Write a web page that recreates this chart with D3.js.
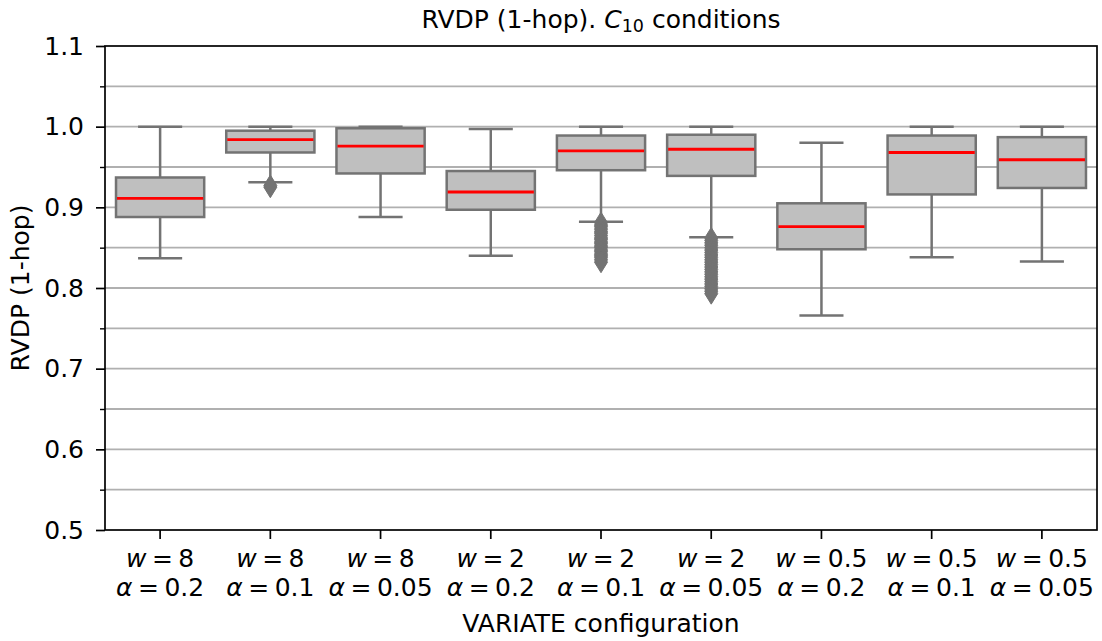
<!DOCTYPE html>
<html>
<head>
<meta charset="utf-8">
<script src="https://cdn.jsdelivr.net/npm/d3@7"></script>
<style>
  body { margin: 0; background: #fff; }
  svg { font-family: "DejaVu Sans", sans-serif; }
</style>
</head>
<body>
<div id="chart"></div>
<script>
// configurations along the x axis
const wValues = ["8", "8", "8", "2", "2", "2", "0.5", "0.5", "0.5"];
const alphaValues = ["0.2", "0.1", "0.05", "0.2", "0.1", "0.05", "0.2", "0.1", "0.05"];

// box statistics
const whiskerLow  = [0.837, 0.931, 0.888, 0.840, 0.882, 0.863, 0.766, 0.838, 0.833];
const q1          = [0.888, 0.968, 0.942, 0.897, 0.946, 0.939, 0.848, 0.916, 0.924];
const medians     = [0.911, 0.984, 0.976, 0.919, 0.970, 0.972, 0.876, 0.968, 0.959];
const q3          = [0.937, 0.995, 0.998, 0.945, 0.989, 0.990, 0.905, 0.989, 0.987];
const whiskerHigh = [1.000, 1.000, 1.000, 0.997, 1.000, 1.000, 0.980, 1.000, 1.000];

const outliers = [
  [],
  [0.927, 0.925],
  [],
  [],
  [0.881, 0.878, 0.876, 0.873, 0.870, 0.868, 0.865, 0.862, 0.860, 0.857, 0.855,
   0.852, 0.850, 0.847, 0.845, 0.842, 0.840, 0.838, 0.835, 0.832],
  [0.862, 0.859, 0.856, 0.853, 0.850, 0.847, 0.844, 0.841, 0.838, 0.835, 0.832,
   0.829, 0.826, 0.823, 0.820, 0.817, 0.814, 0.811, 0.808, 0.805, 0.802, 0.799,
   0.796, 0.793],
  [],
  [],
  []
];

const yMajor = [0.5, 0.6, 0.7, 0.8, 0.9, 1.0, 1.1];
const yMinor = [0.55, 0.65, 0.75, 0.85, 0.95, 1.05];

const width = 1102, height = 641;
const margin = { top: 46, right: 5, bottom: 111, left: 105 };
const fs = 25;

const boxFill = "#bfbfbf";
const lineGray = "#737373";
const lw = 2.5;

const svg = d3.select("#chart").append("svg")
  .attr("width", width).attr("height", height);

const keys = wValues.map((w, i) => i);
const x = d3.scaleBand().domain(keys)
  .range([margin.left, width - margin.right])
  .paddingInner(0.2).paddingOuter(0.1);
const y = d3.scaleLinear().domain([0.5, 1.1]).range([height - margin.bottom, margin.top]);

// grid lines at every 0.05
svg.append("g").selectAll("line")
  .data(yMajor.concat(yMinor).filter(v => v > 0.5 && v < 1.1))
  .join("line")
  .attr("x1", margin.left).attr("x2", width - margin.right)
  .attr("y1", d => y(d)).attr("y2", d => y(d))
  .attr("stroke", "#b0b0b0").attr("stroke-width", 1.8);

// boxes
const boxes = svg.append("g").selectAll("g").data(keys).join("g");
const cx = i => x(i) + x.bandwidth() / 2;
const capW = x.bandwidth() * 0.5;

boxes.append("line")
  .attr("x1", cx).attr("x2", cx)
  .attr("y1", i => y(q3[i])).attr("y2", i => y(whiskerHigh[i]))
  .attr("stroke", lineGray).attr("stroke-width", lw);
boxes.append("line")
  .attr("x1", cx).attr("x2", cx)
  .attr("y1", i => y(q1[i])).attr("y2", i => y(whiskerLow[i]))
  .attr("stroke", lineGray).attr("stroke-width", lw);
boxes.append("line")
  .attr("x1", i => cx(i) - capW / 2).attr("x2", i => cx(i) + capW / 2)
  .attr("y1", i => y(whiskerHigh[i])).attr("y2", i => y(whiskerHigh[i]))
  .attr("stroke", lineGray).attr("stroke-width", lw);
boxes.append("line")
  .attr("x1", i => cx(i) - capW / 2).attr("x2", i => cx(i) + capW / 2)
  .attr("y1", i => y(whiskerLow[i])).attr("y2", i => y(whiskerLow[i]))
  .attr("stroke", lineGray).attr("stroke-width", lw);
boxes.append("rect")
  .attr("x", i => x(i)).attr("width", x.bandwidth())
  .attr("y", i => y(q3[i])).attr("height", i => y(q1[i]) - y(q3[i]))
  .attr("fill", boxFill).attr("stroke", lineGray).attr("stroke-width", lw);
boxes.append("line")
  .attr("x1", i => x(i) + 1).attr("x2", i => x(i) + x.bandwidth() - 1)
  .attr("y1", i => y(medians[i])).attr("y2", i => y(medians[i]))
  .attr("stroke", "#ff0000").attr("stroke-width", 2.8);

// outliers as thin diamonds
const diamond = "M0,-10.5L6.5,0L0,10.5L-6.5,0Z";
boxes.each(function (i) {
  d3.select(this).selectAll("path.flier").data(outliers[i]).join("path")
    .attr("class", "flier")
    .attr("d", diamond)
    .attr("transform", v => `translate(${cx(i)},${y(v)})`)
    .attr("fill", lineGray).attr("stroke", lineGray).attr("stroke-width", 1);
});

// frame
svg.append("rect")
  .attr("x", margin.left).attr("y", margin.top)
  .attr("width", width - margin.left - margin.right)
  .attr("height", height - margin.top - margin.bottom)
  .attr("fill", "none").attr("stroke", "#000").attr("stroke-width", 1.7);

// y axis
const yAxis = svg.append("g").attr("transform", `translate(${margin.left},0)`)
  .call(d3.axisLeft(y).tickValues(yMajor).tickFormat(d3.format(".1f")).tickSize(9).tickPadding(12).tickSizeOuter(0));
yAxis.select(".domain").remove();
yAxis.selectAll("line").attr("stroke", "#000").attr("stroke-width", 1.7);
yAxis.selectAll("text").attr("font-size", fs).attr("font-family", "DejaVu Sans").attr("fill", "#000");

const yMinorAxis = svg.append("g").attr("transform", `translate(${margin.left},0)`)
  .call(d3.axisLeft(y).tickValues(yMinor).tickFormat("").tickSize(5).tickSizeOuter(0));
yMinorAxis.select(".domain").remove();
yMinorAxis.selectAll("line").attr("stroke", "#000").attr("stroke-width", 1.4);

// x axis
const xAxis = svg.append("g").attr("transform", `translate(0,${height - margin.bottom})`)
  .call(d3.axisBottom(x).tickFormat("").tickSize(9).tickSizeOuter(0));
xAxis.select(".domain").remove();
xAxis.selectAll("line").attr("stroke", "#000").attr("stroke-width", 1.7);

// two-line math style tick labels
function mathLabel(sel, sym, val, yPos) {
  const t = sel.append("text").attr("x", cx).attr("y", yPos)
    .attr("text-anchor", "middle").attr("font-size", fs).attr("fill", "#000");
  t.append("tspan").attr("font-style", "italic").text(sym);
  t.append("tspan").attr("dx", 5.5).text("=");
  t.append("tspan").attr("dx", 5.5).text(val);
}
const xl = svg.append("g").selectAll("g").data(keys).join("g");
xl.each(function (i) {
  mathLabel(d3.select(this), "w", wValues[i], 567);
  mathLabel(d3.select(this), "α", alphaValues[i], 596);
});

// axis titles
svg.append("text")
  .attr("x", (margin.left + width - margin.right) / 2).attr("y", 632)
  .attr("text-anchor", "middle").attr("font-size", fs)
  .text("VARIATE configuration");
svg.append("text")
  .attr("transform", `translate(29,${(margin.top + height - margin.bottom) / 2}) rotate(-90)`)
  .attr("text-anchor", "middle").attr("font-size", fs)
  .text("RVDP (1-hop)");

// title
const title = svg.append("text")
  .attr("x", (margin.left + width - margin.right) / 2).attr("y", 28)
  .attr("text-anchor", "middle").attr("font-size", fs);
title.append("tspan").text("RVDP (1-hop). ");
title.append("tspan").attr("font-style", "italic").text("C");
title.append("tspan").attr("font-size", 17.5).attr("dy", 4).text("10");
title.append("tspan").attr("dy", -4).text(" conditions");
</script>
</body>
</html>
